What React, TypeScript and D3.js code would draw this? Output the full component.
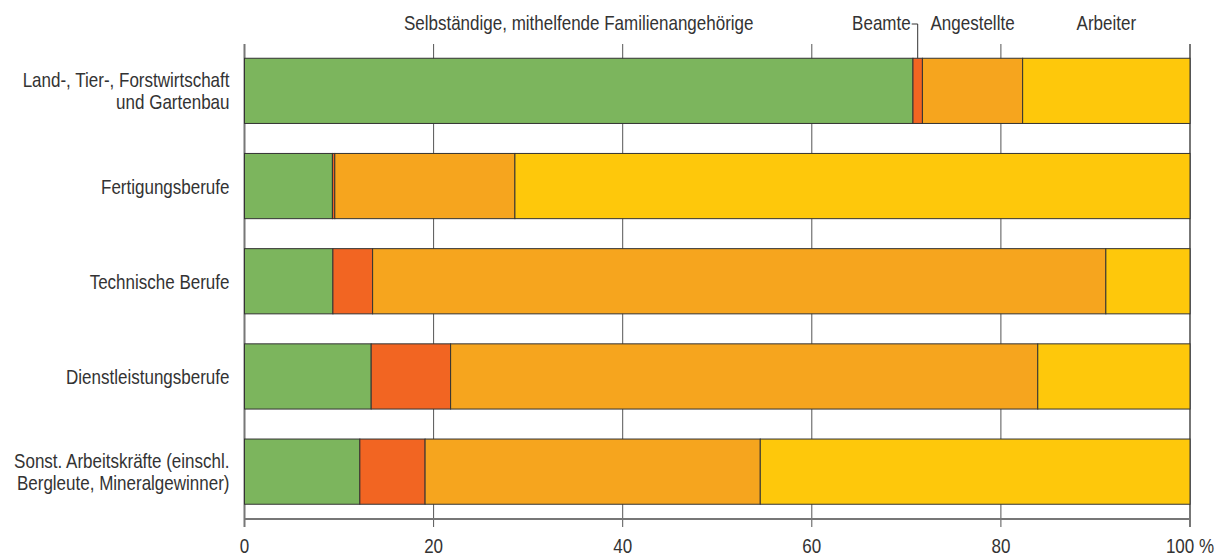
import React from 'react';
import * as d3 from 'd3';

const categories = [
    'Land-, Tier-, Forstwirtschaft\nund Gartenbau',
    'Fertigungsberufe',
    'Technische Berufe',
    'Dienstleistungsberufe',
    'Sonst. Arbeitskräfte (einschl.\nBergleute, Mineralgewinner)',
];
const seriesNames = ['Selbständige, mithelfende Familienangehörige', 'Beamte', 'Angestellte', 'Arbeiter'];
const selbstaendige = [70.7, 9.3, 9.35, 13.4, 12.2];
const beamte = [1.0, 0.25, 4.2, 8.4, 6.9];
const angestellte = [10.6, 19.05, 77.55, 62.1, 35.45];
const arbeiter = [17.7, 71.4, 8.9, 16.1, 45.45];
const tickValues = [0, 20, 40, 60, 80, 100];
const tickLabels = ['0', '20', '40', '60', '80', '100 %'];

const colors = ['#7cb55d', '#f26522', '#f6a51e', '#fec80b'];
const font = '"Liberation Sans", Arial, sans-serif';
const textColor = '#333';
const squeeze = 0.81; // no condensed face installed, so narrow the regular one

// text squeezed horizontally around its anchor point
function NText({ x, y, anchor = 'middle', children }) {
    return (
        <text transform={`translate(${x},${y}) scale(${squeeze},1)`} textAnchor={anchor}>
            {children}
        </text>
    );
}

export default function App() {
    const width = 1226;
    const height = 559;

    const rows = categories.map((c, i) => ({
        name: c,
        s0: selbstaendige[i],
        s1: beamte[i],
        s2: angestellte[i],
        s3: arbeiter[i],
    }));
    const keys = ['s0', 's1', 's2', 's3'];
    const stacked = d3.stack().keys(keys)(rows);

    const x = d3.scaleLinear().domain([0, 100]).range([244.5, 1190]);
    const y = d3.scaleBand()
        .domain(categories)
        .range([43.5, 519])
        .paddingInner(0.315)
        .paddingOuter(0.155);

    const gridTop = 44;
    const gridBottom = 527;
    const axisY = 519;

    // legend labels sit over the segments of the first bar
    const first = stacked.map((s) => s[0]);
    const mid = (d) => (x(d[0]) + x(d[1])) / 2;
    const barTop = y(categories[0]);

    return (
        <svg width={width} height={height} style={{ position: 'absolute', left: 0, top: 0 }}
            fontFamily={font} fontSize={21} fill={textColor}>
            {/* gridlines */}
            {tickValues.map((t) => (
                <line key={'g' + t} x1={x(t)} x2={x(t)} y1={gridTop} y2={gridBottom}
                    stroke={t === 0 || t === 100 ? '#777' : '#555'}
                    strokeWidth={t === 0 || t === 100 ? 2 : 1} />
            ))}
            <line x1={x(0)} x2={x(100)} y1={axisY} y2={axisY} stroke="#777" strokeWidth={2} />

            {/* bars */}
            {stacked.map((s, si) => (
                <g key={s.key} fill={colors[si]} stroke="#333" strokeWidth={1}>
                    {s.map((d, i) => (
                        <rect key={i}
                            x={x(d[0])}
                            y={y(categories[i])}
                            width={x(d[1]) - x(d[0])}
                            height={y.bandwidth()} />
                    ))}
                </g>
            ))}

            {/* category labels */}
            {categories.map((c) => {
                const lines = c.split('\n');
                const cy = y(c) + y.bandwidth() / 2;
                const lh = 22;
                const base = cy + 7.5 - ((lines.length - 1) * lh) / 2;
                return (
                    <g key={c}>
                        {lines.map((l, i) => (
                            <NText key={i} x={229.5} y={base + i * lh} anchor="end">{l}</NText>
                        ))}
                    </g>
                );
            })}

            {/* tick labels */}
            {tickValues.map((t, i) => (
                <NText key={'t' + t} x={x(t)} y={553}>{tickLabels[i]}</NText>
            ))}

            {/* series labels */}
            <NText x={mid(first[0])} y={30}>{seriesNames[0]}</NText>
            <NText x={mid(first[1]) - 7} y={30} anchor="end">{seriesNames[1]}</NText>
            <path d={`M${mid(first[1]) - 6},24H${mid(first[1])}V${barTop}`} fill="none" stroke="#333" strokeWidth={1} />
            <NText x={mid(first[2])} y={30}>{seriesNames[2]}</NText>
            <NText x={mid(first[3])} y={30}>{seriesNames[3]}</NText>
        </svg>
    );
}
